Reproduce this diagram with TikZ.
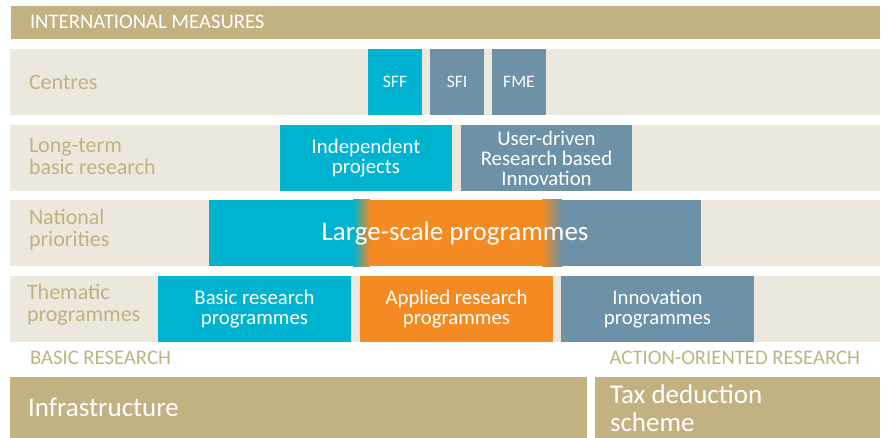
\documentclass[tikz,border=0pt]{standalone}
\usepackage{fontspec}
\setmainfont{Carlito}
\usetikzlibrary{positioning}
\definecolor{khaki}{HTML}{C2B281}
\definecolor{beige}{HTML}{ECE8DD}
\definecolor{aqua}{HTML}{00B3D0}
\definecolor{slate}{HTML}{6D91A7}
\definecolor{tangerine}{HTML}{F38A22}

\begin{document}
\begin{tikzpicture}[x=1pt,y=-1pt,every node/.style={inner sep=0pt,outer sep=0pt},node distance=8pt,
    band/.style={fill=beige,anchor=north west,minimum width=870pt,minimum height=66pt},
    lbl/.style={anchor=west,align=left,text=khaki,font=\fontsize{22}{22}\selectfont},
    caps/.style={anchor=west,text=khaki,font=\fontsize{20.7}{22}\selectfont},
    box/.style={anchor=north west,minimum height=66pt,text=white,align=center,font=\fontsize{20.8}{20}\selectfont},
    base/.style={fill=khaki,anchor=north west,minimum height=61pt},
    big/.style={anchor=west,align=left,text=white,font=\fontsize{27}{28}\selectfont},]
	    \useasboundingbox (0,0) rectangle (882,438);
	    % the rows
		    \node[fill=khaki,anchor=north west,minimum width=869pt,minimum height=33pt] (intl) at (11,6) {};
		    \node[caps,text=white] (intltext) at (30,22) {INTERNATIONAL MEASURES};
		    \node[band] (centres) at (10,49) {};
		    \node[band] (longterm) at (10,125) {};
		    \node[band] (national) at (10,200) {};
		    \node[band] (thematic) at (10,276) {};
		    \node[lbl] (centreslbl) at (29,82) {Centres};
		    \node[lbl] (longtermlbl) at (29,157) {Long-term\\basic research};
		    \node[lbl] (nationallbl) at (29,230) {National\\priorities};
		    \node[lbl] (thematiclbl) at (27,305) {Thematic\\programmes};
	    % centres
		    \node[box,fill=aqua,minimum width=54pt,font=\fontsize{17.5}{18}\selectfont] (sff) at (368,49) {SFF};
		    \node[box,fill=slate,minimum width=54pt,font=\fontsize{17.5}{18}\selectfont] (sfi)[right =of sff] {SFI};
		    \node[box,fill=slate,minimum width=54pt,font=\fontsize{17.5}{18}\selectfont] (fme)[right =of sfi] {FME};
	    % long-term basic research
		    \node[box,fill=aqua,minimum width=172pt] (indep) at (280,125) {Independent\\projects};
		    \node[box,fill=slate,minimum width=171pt] (userdriven)[right =9pt of indep] {User-driven\\Research based\\Innovation};
	    % national priorities
		    \fill[aqua] (209,200) rectangle (354,266);
		    \shade[left color=aqua,right color=tangerine] (353,200) rectangle (370,266);
		    \fill[tangerine] (369,200) rectangle (543,266);
		    \shade[left color=tangerine,right color=slate] (542,200) rectangle (562,266);
		    \fill[slate] (561,200) rectangle (701,266);
		    \node[box,minimum width=492pt,font=\fontsize{27}{28}\selectfont] (largescale) at (209,200) {Large-scale programmes};
	    % thematic programmes
		    \node[box,fill=aqua,minimum width=193pt] (basicprog) at (158,276) {Basic research\\programmes};
		    \node[box,fill=tangerine,minimum width=193pt] (appliedprog)[right =9pt of basicprog] {Applied research\\programmes};
		    \node[box,fill=slate,minimum width=193pt] (innovprog)[right =of appliedprog] {Innovation\\programmes};
		    \node[caps] (basiclbl) at (30,358) {BASIC RESEARCH};
		    \node[caps,anchor=east] (actionlbl) at (860,358) {ACTION-ORIENTED RESEARCH};
	    % bottom row
		    \node[base,minimum width=577pt] (infra) at (10,377) {};
		    \node[big] (infratext) at (28,407) {Infrastructure};
		    \node[base,minimum width=285pt] (tax) at (595,377) {};
		    \node[big] (taxtext) at (610,408) {Tax deduction\\scheme};
		\end{tikzpicture}
\end{document}
